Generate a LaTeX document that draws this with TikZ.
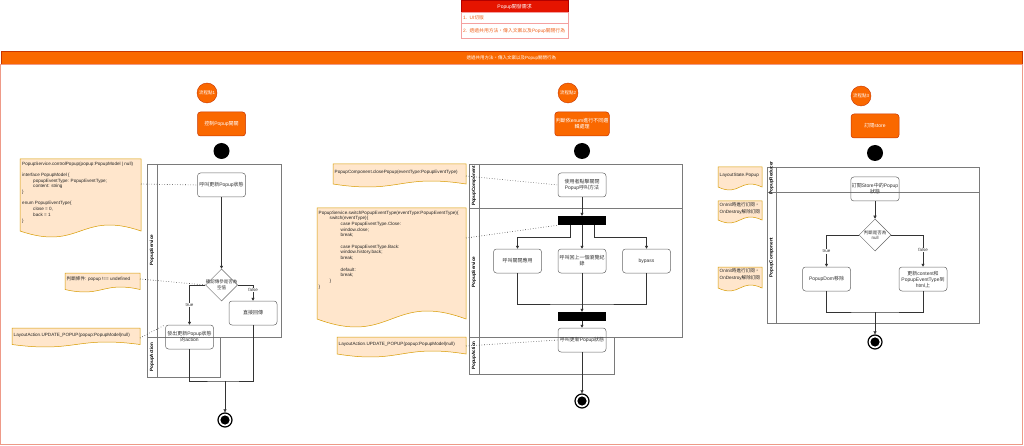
\documentclass[tikz,border=0pt]{standalone}
\usepackage{fontspec}
\setmainfont{Liberation Sans}
\newfontfamily\cjkfont{Noto Sans CJK TC}
\XeTeXinterchartokenstate=1
\newXeTeXintercharclass\cjkcls
\newcount\cjkc
\cjkc="3000
\loop\ifnum\cjkc<"A000 \XeTeXcharclass\cjkc=\cjkcls \advance\cjkc by 1 \repeat
\cjkc="FF00
\loop\ifnum\cjkc<"FFF0 \XeTeXcharclass\cjkc=\cjkcls \advance\cjkc by 1 \repeat
\XeTeXinterchartoks 0 \cjkcls = {\begingroup\cjkfont}
\XeTeXinterchartoks 4095 \cjkcls = {\begingroup\cjkfont}
\XeTeXinterchartoks \cjkcls 0 = {\endgroup}
\XeTeXinterchartoks \cjkcls 4095 = {\endgroup}
\usetikzlibrary{shapes.geometric,arrows.meta}
\definecolor{orA}{HTML}{FA6800}
\definecolor{orD}{HTML}{C73500}
\definecolor{redA}{HTML}{E51400}
\definecolor{redD}{HTML}{B20000}
\definecolor{noteF}{HTML}{FFE6CC}
\definecolor{noteD}{HTML}{D79B00}
\definecolor{laneC}{HTML}{7A7A7A}
\definecolor{boxC}{HTML}{666666}
\definecolor{txtC}{HTML}{333333}
\definecolor{salmonC}{HTML}{EE9A88}
\definecolor{rowT}{HTML}{F0641E}
\definecolor{rowL}{HTML}{F4A0A0}
\newcommand\fsz[2]{\fontsize{#1}{#2}\selectfont}
% name-free document-shaped note: x1,y1,x2,y2,amplitude
\newcommand\docnote[5]{%
  \pgfmathsetmacro\nmx{(#1+#3)/2}%
  \pgfmathsetmacro\nmy{#4-#5}%
  \pgfmathsetmacro\nup{#4-#5-3.46*#5}%
  \pgfmathsetmacro\ndn{#4-#5+3.46*#5}%
  \path[notebg] (#1,#2) -- (#3,#2) -- (#3,\nmy) .. controls (\nmx,\nup) and (\nmx,\ndn) .. (#1,\nmy) -- cycle;}
\tikzset{
  flowbox/.style={draw=boxC, line width=0.5pt, rounded corners=3pt, minimum width=48pt, minimum height=24pt, align=center, text=txtC, font=\fsz{5}{6}, inner sep=1pt},
  orangebox/.style={flowbox, fill=orA, draw=orD, text=white},
  stepcircle/.style={circle, fill=orA, draw=orD, minimum size=20pt, inner sep=0pt, text=white, font=\fsz{4.5}{5.5}},
  startdot/.style={circle, fill=black, minimum size=16pt, inner sep=0pt},
  endstate/.style={circle, draw=black, line width=1.2pt, minimum size=14pt, inner sep=0pt, fill=white, path picture={\fill[black] (path picture bounding box.center) circle (4.6pt);}},
  decision/.style={diamond, draw=boxC, line width=0.5pt, minimum width=32pt, minimum height=32pt, inner sep=0pt},
  lane/.style={draw=laneC, line width=0.6pt},
  lanelabel/.style={rotate=90, font=\bfseries\fsz{4.6}{5.5}, text=black, inner sep=0pt},
  forkbar/.style={fill=black, minimum width=48pt, minimum height=9pt, inner sep=0pt},
  notebg/.style={fill=noteF, draw=noteD, line width=0.5pt},
  notetext/.style={font=\fsz{4.6}{5.7}, align=left, inner sep=0pt, text=black!85},
  dotline/.style={dotted, line width=0.6pt, black!80},
  flow/.style={-{Triangle[length=3pt,width=3pt]}, draw=black!80, line width=0.5pt},
  plain/.style={draw=black!80, line width=0.5pt},
  lbl/.style={font=\fsz{4.5}{5.5}, text=txtC, fill=white, inner sep=0.6pt},
}
\begin{document}
\begin{tikzpicture}[x=1pt,y=-1pt]
\useasboundingbox (0,0) rectangle (1024,446);

% header
\node[fill=redA, draw=redD, minimum width=107pt, minimum height=11.5pt, anchor=north west, inner sep=0pt, text=white, font=\fsz{5}{6}] (hd) at (461,0.5) {Popup開發需求};
\node[draw=rowL, fill=white, minimum width=107pt, minimum height=10.5pt, anchor=north west, text width=103pt, inner xsep=2pt, inner ysep=0pt, align=left, text=rowT, font=\fsz{4.8}{6}] (hr1) at (hd.south west) {1. UI切版};
\node[draw=rowL, fill=white, minimum width=107pt, minimum height=15pt, anchor=north west, text width=103pt, inner xsep=2pt, inner ysep=0pt, align=left, text=rowT, font=\fsz{4.8}{6}] (hr2) at (hr1.south west) {2. 透過共用方法，傳入文案以及Popup關閉行為};

% orange bar + container
\node[fill=orA, draw=orD, minimum width=1021.5pt, minimum height=12.5pt, anchor=north west, inner sep=0pt, text=white, font=\fsz{4.5}{5.5}] (ob) at (0.5,51.5) {透過共用方法，傳入文案以及Popup關閉行為};
\coordinate (cbr) at (1022,444);
\draw[salmonC, line width=0.8pt] (ob.south west) rectangle (cbr);

% ================= LEFT =================
\node[stepcircle] (s1) at (207,93) {流程點1};
\node[orangebox] (o1) at (221.5,124) {控制Popup開關};
\node[startdot] (st1) at (221.5,151) {};
\draw[lane] (147,164) rectangle (281,337);
\draw[lane] (157,164) -- (157,337);
\draw[lane] (147,337) rectangle (220,377);
\draw[lane] (157,337) -- (157,377);
\node[lanelabel] (ll1) at (152,250) {PopupService};
\node[lanelabel] (ll2) at (152,357) {PopupAction};

\node[flowbox] (b1) at (221.5,185) {呼叫更新Popup狀態};
\node[decision] (d1) at (221.5,285) {};
\node[font=\fsz{4.5}{5.5}, text=txtC, align=center, inner sep=0pt] (d1t) at (d1) {確認傳參是否為\\空值};
\node[flowbox] (bt1) at (189.5,337) {發出更新Popup狀態\\的action};
\node[flowbox] (bf1) at (253,313) {直接回傳};
\node[endstate] (e1) at (225,420) {};

\draw[flow] (b1.south) -- (d1.north);
\draw[flow] (d1.west) -| node[lbl, pos=0.75] (tl1) {true} (bt1.north);
\draw[flow] (d1.east) -| node[lbl, pos=0.66] (fl1) {false} (bf1.north);
\coordinate (m1) at (225,381);
\draw[plain] (bt1.south) |- (m1) -| (bf1.south);
\draw[flow] (m1) -- (e1.north);

\docnote{20}{159}{141}{237}{6}
\node[notetext, anchor=north west] (n1) at (22,161.5) {PopupService.controlPopup(popup:PopupModel | null)\\[5.7pt]
interface PopupModel  \{\\
\hspace*{11pt}popupEventType: PopupEventType;\\
\hspace*{11pt}content: string\\
\}\\[5.7pt]
enum PopupEventType\{\\
\hspace*{11pt}close = 0,\\
\hspace*{11pt}back = 1\\
\}};
\coordinate (n1e) at (141,184);
\draw[dotline] (n1e) -- (b1.west);

\docnote{65}{273}{140}{292}{2.5}
\node[notetext, anchor=west] (n2) at (66.5,279.5) {判斷條件: popup !== undefined};
\coordinate (n2e) at (140,279);
\draw[dotline] (n2e) -- (d1.west);

\docnote{12}{328}{140}{347}{2.5}
\node[notetext, anchor=west] (n3) at (13.5,335.5) {LayoutAction.UPDATE\_POPUP(popup:PopupModel|null)};
\coordinate (n3e) at (140,338);
\draw[dotline] (n3e) -- (bt1.north west);

% ================= MIDDLE =================
\node[stepcircle] (s2) at (568,93) {流程點2};
\node[orangebox] (o2) at (582,124) {判斷依enum進行不同邏\\輯處理};
\node[startdot] (st2) at (582,151) {};
\draw[lane] (469,164) rectangle (682,337);
\draw[lane] (469,208) -- (682,208);
\draw[lane] (479,164) -- (479,337);
\draw[lane] (469,337) rectangle (614,374);
\draw[lane] (479,337) -- (479,374);
\node[lanelabel] (ml1) at (474,186) {PopupComponent};
\node[lanelabel] (ml2) at (474,272) {PopupService};
\node[lanelabel] (ml3) at (474,355.5) {PopupAction};

\node[flowbox] (b2a) at (582,185) {使用者點擊關閉\\Popup呼叫方法};
\node[forkbar] (bar1) at (582,220.5) {};
\node[flowbox] (b2b) at (517.5,261) {呼叫關閉應用};
\node[flowbox] (b2c) at (582,261) {呼叫回上一個瀏覽紀\\錄};
\node[flowbox] (b2d) at (646.5,261) {bypass};
\node[forkbar] (bar2) at (582,316.5) {};
\node[flowbox] (b2e) at (582,340) {呼叫更新Popup狀態};
\node[endstate] (e2) at (582,401) {};

\draw[flow] (b2a.south) -- (bar1.north);
\draw[flow] ([xshift=-12pt]bar1.south) -- ++(0,12) -| (b2b.north);
\draw[flow] (bar1.south) -- (b2c.north);
\draw[flow] ([xshift=12pt]bar1.south) -- ++(0,12) -| (b2d.north);
\coordinate (j2) at (582,304);
\draw[plain] (b2b.south) |- (j2) -| (b2d.south);
\draw[plain] (b2c.south) -- (j2);
\draw[flow] (j2) -- (bar2.north);
\draw[flow] (bar2.south) -- (b2e.north);
\draw[flow] (b2e.south) -- (e2.north);

\docnote{333}{164}{466}{187}{3}
\node[notetext, anchor=west] (m1n) at (334.5,172.5) {PopupComponent.closePopup(eventType:PopupEventType)};
\coordinate (m1e) at (466,176);
\draw[dotline] (m1e) -- (b2a.west);

\docnote{317}{208}{466}{327}{8}
\node[notetext, anchor=north west] (m2n) at (318.5,210.5) {PopupService.switchPopupEventType(eventType:PopupEventType)\{\\
\hspace*{11pt}switch(eventType)\{\\
\hspace*{22pt}case PopupEventType.Close:\\
\hspace*{22pt}window.close;\\
\hspace*{22pt}break;\\[5.7pt]
\hspace*{22pt}case PopupEventType.Back:\\
\hspace*{22pt}window.history.back;\\
\hspace*{22pt}break;\\[5.7pt]
\hspace*{22pt}default:\\
\hspace*{22pt}break;\\
\hspace*{11pt}\}\\
\}};
\coordinate (m2e) at (466,238);
\draw[dotline] (m2e) -- (bar1.south west);

\docnote{337}{337}{466}{357}{3}
\node[notetext, anchor=west] (m3n) at (338.5,344) {LayoutAction.UPDATE\_POPUP(popup:PopupModel|null)};
\coordinate (m3e) at (466,346);
\draw[dotline] (m3e) -- (b2e.west);

% ================= RIGHT =================
\node[stepcircle] (s3) at (861,96) {流程點3};
\node[orangebox] (o3) at (875,126) {訂閱store};
\node[startdot] (st3) at (875,153) {};
\draw[lane] (767,167) rectangle (979,323);
\draw[lane] (767,192) -- (979,192);
\draw[lane] (776,167) -- (776,323);
\node[lanelabel] (rl1) at (771.5,178) {PopupReducer};
\node[lanelabel] (rl2) at (771.5,257.5) {PopupComponent};

\node[flowbox] (b3a) at (875,189) {訂閱Store中的Popup\\狀態};
\node[decision] (d3) at (875,235) {};
\node[font=\fsz{4.5}{5.5}, text=txtC, align=center, inner sep=0pt] (d3t) at (d3) {判斷是否為\\null};
\node[flowbox] (b3t) at (826.5,279) {PopupDom移除};
\node[flowbox] (b3f) at (923,279) {更新content和\\PopupEventType到\\html上};
\node[endstate] (e3) at (875,342) {};

\draw[flow] (b3a.south) -- (d3.north);
\draw[flow] (d3.west) -| node[lbl, pos=0.76] (tl3) {true} (b3t.north);
\draw[flow] (d3.east) -| node[lbl, pos=0.74] (fl3) {false} (b3f.north);
\coordinate (j3) at (875,312);
\draw[plain] (b3t.south) |- (j3) -| (b3f.south);
\draw[flow] (j3) -- (e3.north);

\docnote{718}{167}{762}{190}{3}
\node[notetext, anchor=west] (r1n) at (719.5,175) {LayoutState.Popup};
\docnote{718}{201}{762}{223}{3}
\node[notetext, anchor=north west, font=\fsz{4.6}{7}] (r2n) at (719.5,202) {OnInit時進行訂閱，\\OnDestroy解除訂閱};
\docnote{718}{267}{762}{291}{3}
\node[notetext, anchor=north west, font=\fsz{4.6}{7}] (r3n) at (719.5,268) {OnInit時進行訂閱，\\OnDestroy解除訂閱};
\end{tikzpicture}
\end{document}
